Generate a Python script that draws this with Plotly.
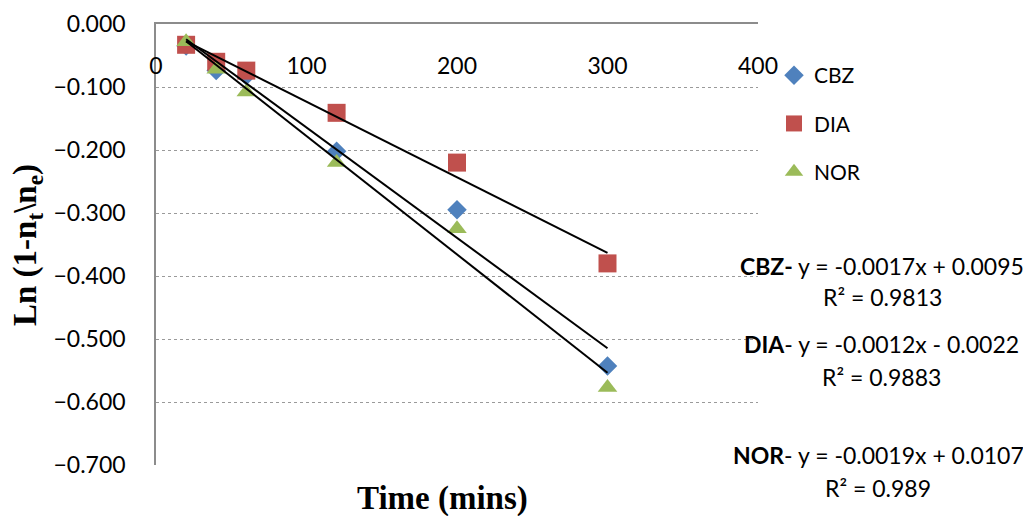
import numpy as np
import plotly.graph_objects as go

time_min = [20, 40, 60, 120, 200, 300]
cbz = [-0.035, -0.074, -0.082, -0.202, -0.295, -0.543]
dia = [-0.033, -0.060, -0.074, -0.141, -0.220, -0.380]
nor = [-0.028, -0.072, -0.108, -0.220, -0.325, -0.577]

series_names = ["CBZ", "DIA", "NOR"]
series_values = [cbz, dia, nor]
colors = ["#4F81BD", "#C0504D", "#9BBB59"]
symbols = ["diamond", "square", "triangle-up"]
sizes = [15, 18, 17]

eq_labels = [
    ("CBZ-", " y = -0.0017x + 0.0095", "R² = 0.9813"),
    ("DIA", "- y = -0.0012x - 0.0022", "R² = 0.9883"),
    ("NOR", "- y = -0.0019x + 0.0107", "R² = 0.989"),
]

x_ticks = [0, 100, 200, 300, 400]
y_ticks = [0, -0.1, -0.2, -0.3, -0.4, -0.5, -0.6, -0.7]

FONT = "Lato"
# page body has an 8px margin; target plot area (page pixels): x 156..758, y 24..465
OFF = 8
L, R, T, B = 156, 758, 24, 465
W, H = 1031 - OFF, 516 - OFF


def px(xp):
    return (xp - L) / (R - L)


def py(yp):
    return (B - yp) / (B - T)


fig = go.Figure()

for i, (name, vals) in enumerate(zip(series_names, series_values)):
    fig.add_trace(go.Scatter(
        x=time_min, y=vals, mode="markers", name=name,
        legendgroup=name,
        marker=dict(symbol=symbols[i], color=colors[i], size=sizes[i], line=dict(width=0)),
    ))

for name, vals in zip(series_names, series_values):
    m, b = np.polyfit(time_min, vals, 1)
    xs = [min(time_min), max(time_min)]
    fig.add_trace(go.Scatter(
        x=xs, y=[m * v + b for v in xs], mode="lines",
        line=dict(color="black", width=2), showlegend=False, hoverinfo="skip",
    ))

# invisible trace carrying the x tick-label axis
fig.add_trace(go.Scatter(x=time_min, y=cbz, xaxis="x2", mode="markers",
                         marker=dict(opacity=0), showlegend=False, hoverinfo="skip"))

fig.update_layout(
    width=W, height=H,
    margin=dict(l=L - OFF, r=W - (R - OFF), t=T - OFF, b=H - (B - OFF), autoexpand=False),
    paper_bgcolor="white", plot_bgcolor="white",
    font=dict(family=FONT, size=20, color="black"),
    showlegend=True,
    legend=dict(x=px(774), y=py(55), xanchor="left", yanchor="top",
                font=dict(family=FONT, size=21), tracegroupgap=18,
                itemsizing="trace", bgcolor="rgba(0,0,0,0)"),
    xaxis=dict(range=[0, 400], tickvals=x_ticks, side="top",
               showticklabels=False, automargin=False,
               showgrid=False, zeroline=False, showline=True,
               linecolor="#8c8c8c", linewidth=1.5, ticks=""),
    xaxis2=dict(range=[0, 400], tickvals=x_ticks, overlaying="x", side="bottom",
                anchor="free", position=0.94, automargin=False,
                showgrid=False, zeroline=False, showline=False, ticks="",
                tickfont=dict(family=FONT, size=23)),
    yaxis=dict(range=[-0.7, 0], tickvals=y_ticks, tickformat=".3f",
               automargin=False,
               showgrid=True, gridcolor="#9a9a9a", griddash="dot", gridwidth=1,
               zeroline=False, showline=True, linecolor="#8c8c8c", linewidth=1.5,
               ticks="", ticklabelstandoff=24,
               tickfont=dict(family=FONT, size=23)),
)

fig.add_annotation(text="<b>Time (mins)</b>", xref="paper", yref="paper",
                   x=px(442), y=py(498), showarrow=False, yanchor="middle",
                   font=dict(family="Liberation Serif", size=33))
fig.add_annotation(text="<b>Ln (1-n<sub>t</sub>\\n<sub>e</sub>)</b>", xref="paper", yref="paper",
                   x=px(28), y=py(245), showarrow=False, textangle=-90,
                   xanchor="center", yanchor="middle",
                   font=dict(family="Liberation Serif", size=33))

eq_pos = [(882, 266, 297), (881, 344, 377), (878, 455, 488)]
for (bold, rest, r2), (xc, y1, y2) in zip(eq_labels, eq_pos):
    fig.add_annotation(text=f"<b>{bold}</b>{rest}", xref="paper", yref="paper",
                       x=px(xc), y=py(y1), showarrow=False,
                       xanchor="center", yanchor="middle", font=dict(family=FONT, size=23))
    fig.add_annotation(text=r2, xref="paper", yref="paper",
                       x=px(xc), y=py(y2), showarrow=False,
                       xanchor="center", yanchor="middle", font=dict(family=FONT, size=23))

fig.write_html("out.html")
